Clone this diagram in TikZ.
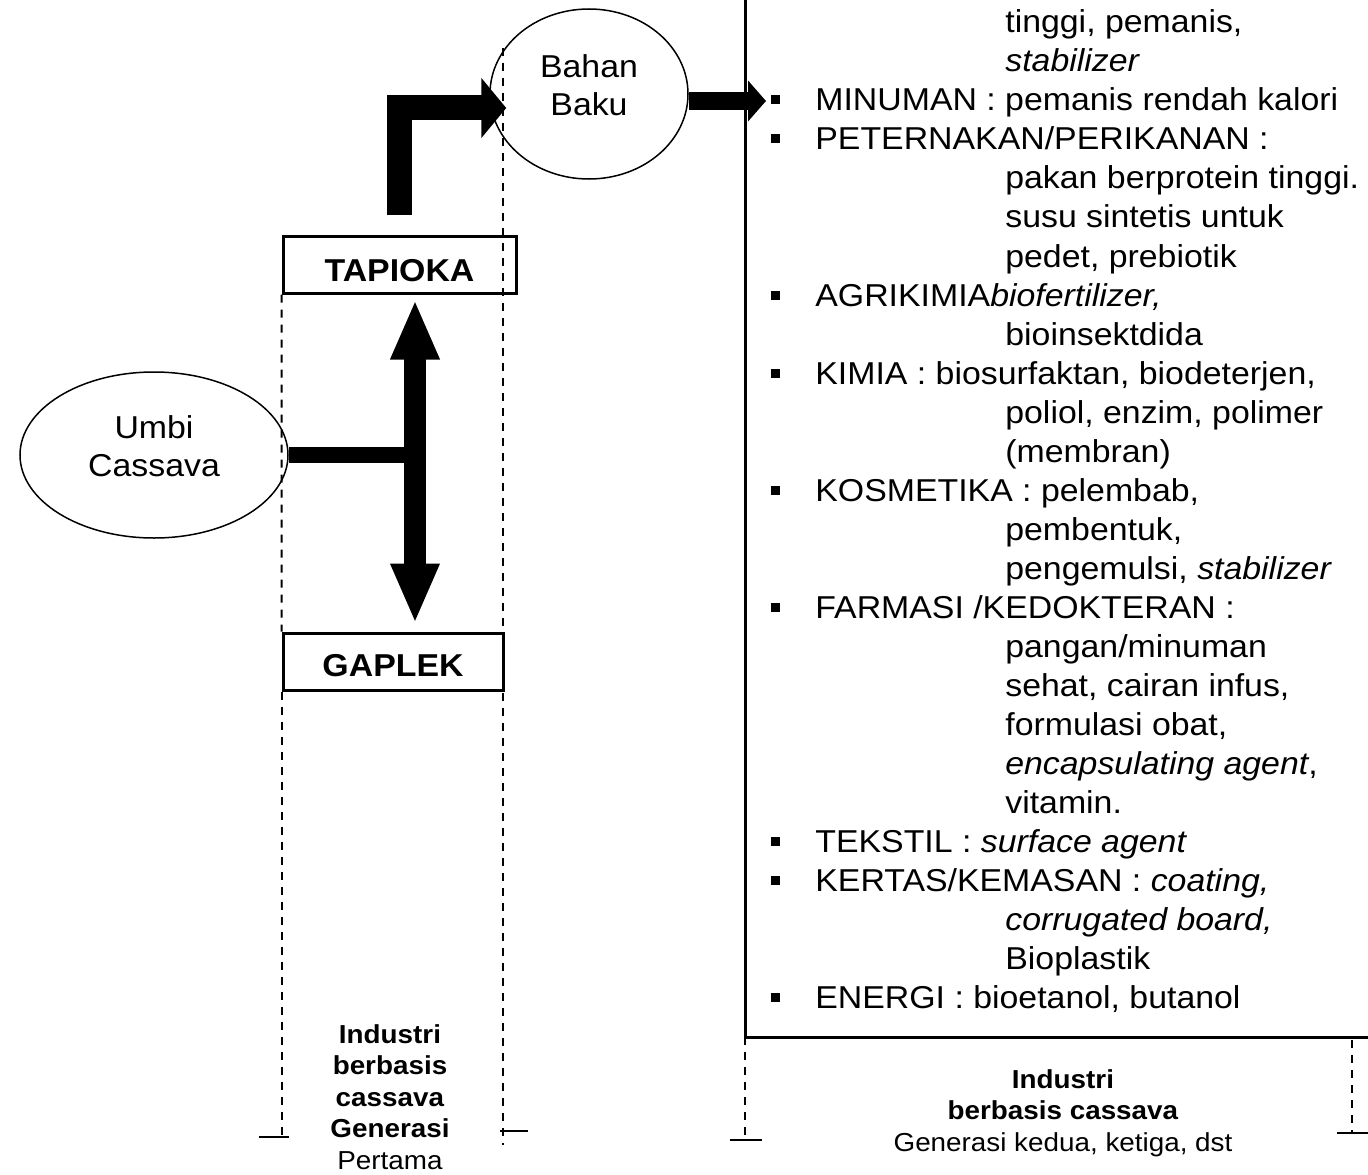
\documentclass[tikz,border=0pt]{standalone}
\usepackage{fontspec}
\setmainfont{Liberation Sans}[FakeStretch=1.07]
\usetikzlibrary{positioning, shapes.geometric, arrows.meta, calc}

\tikzset{
  tuber/.style={draw, ellipse, line width=0.3mm, inner sep=0pt, align=center,
                font=\fontsize{18}{21.6}\selectfont},
  prodbox/.style={draw, rectangle, line width=0.6mm, inner sep=0pt,
                  font=\fontsize{18}{21.6}\selectfont\bfseries},
  guide/.style={line width=0.4mm, dash pattern=on 1.6mm off 1.4mm},
  tick/.style={line width=0.4mm},
  cat/.style={anchor=base west, inner sep=0pt, font=\fontsize{18}{21.6}\selectfont},
  gen/.style={align=center, inner sep=0pt, font=\fontsize{14.8}{17.9}\selectfont},
}
\newcommand{\lowpad}{\rule[-3.4mm]{0pt}{3.4mm}}

\begin{document}
\begin{tikzpicture}[x=0.2mm, y=-0.2mm]
    \useasboundingbox (0,0) rectangle (1368,1175);
    \fill[white] (0,0) rectangle (1368,1175);
    % generasi pertama
    \node[tuber, minimum width=53.6mm, minimum height=33.2mm] (umbi) at (154,455) {Umbi\\Cassava\lowpad};
    \node[tuber, minimum width=39.6mm, minimum height=34mm] (bahan) at (589,94) {Bahan\\Baku\lowpad};
    \node[prodbox, minimum width=46.6mm, minimum height=11.2mm] (tapioka) at (399.5,265) {\rule{0pt}{6.5mm}TAPIOKA};
    \node[prodbox, minimum width=44mm, minimum height=11.4mm] (gaplek) at (393,661.5) {\rule{0pt}{6mm}GAPLEK};
    \coordinate (split) at (415,455);
    \coordinate (listin) at (766,101);
    \draw[guide] (tapioka.south west) -- (gaplek.north west);
    \draw[guide] (gaplek.south west) -- ++(0,445) coordinate (lfoot);
    \draw[tick] ($(lfoot)+(-23,0)$) -- ($(lfoot)+(7,0)$);
    \draw[guide] (503,48) -- (503,1145);
    \draw[tick] (500,1131) -- (528,1131);
    \draw[line width=3.2mm] (umbi.east) -- (split);
    \draw[line width=4.4mm, {Triangle[length=12mm,width=9mm]}-{Triangle[length=12mm,width=9mm]}]
      ($(split |- tapioka.south)+(0,5)$) -- ($(split |- gaplek.north)+(0,-8)$);
    \draw[line width=5mm, -{Triangle[length=5mm,width=11.8mm]}]
      ($(tapioka.north)+(0,-20)$) |- ($(bahan.west)+(17,14)$);
    \draw[line width=3.6mm, -{Triangle[length=3.6mm,width=8mm]}] ($(bahan.east)+(0,7)$) -- (listin);
    % generasi kedua
    \draw[line width=0.6mm] (745,0) -- (745,1037) -- (1368,1037);
    \draw[guide] (745,1037) -- (745,1140);
    \draw[tick] (730,1140) -- (762,1140);
    \draw[guide] (1352,1040) -- (1352,1133);
    \draw[tick] (1337,1133) -- (1368,1133);
    \foreach \y in {100,139,295,373,490,607,841,880,997}
      \fill ({770.5},{\y-4.5}) rectangle ({779.5},{\y+4.5});
    \node[cat] (tinggi) at (1005,33) {tinggi, pemanis,};
    \node[cat] (stab) at (1005,72) {\textit{stabilizer}};
    \node[cat] (minuman) at (815,111) {MINUMAN : pemanis rendah kalori};
    \node[cat] (ternak) at (815,150) {PETERNAKAN/PERIKANAN :};
    \node[cat] (pakan) at (1005,189) {pakan berprotein tinggi.};
    \node[cat] (susu) at (1005,228) {susu sintetis untuk};
    \node[cat] (pedet) at (1005,267) {pedet, prebiotik};
    \node[cat] (agri) at (815,306) {AGRIKIMIA\textit{biofertilizer,}};
    \node[cat] (bioin) at (1005,345) {bioinsektdida};
    \node[cat] (kimia) at (815,384) {KIMIA : biosurfaktan, biodeterjen,};
    \node[cat] (poliol) at (1005,423) {poliol, enzim, polimer};
    \node[cat] (membran) at (1005,462) {(membran)};
    \node[cat] (kosmetik) at (815,501) {KOSMETIKA : pelembab,};
    \node[cat] (bentuk) at (1005,540) {pembentuk,};
    \node[cat] (emulsi) at (1005,579) {pengemulsi, \textit{stabilizer}};
    \node[cat] (farmasi) at (815,618) {FARMASI /KEDOKTERAN :};
    \node[cat] (pangan) at (1005,657) {pangan/minuman};
    \node[cat] (sehat) at (1005,696) {sehat, cairan infus,};
    \node[cat] (obat) at (1005,735) {formulasi obat,};
    \node[cat] (kapsul) at (1005,774) {\textit{encapsulating agent},};
    \node[cat] (vitamin) at (1005,813) {vitamin.};
    \node[cat] (tekstil) at (815,852) {TEKSTIL : \textit{surface agent}};
    \node[cat] (kertas) at (815,891) {KERTAS/KEMASAN : \textit{coating,}};
    \node[cat] (board) at (1005,930) {\textit{corrugated board,}};
    \node[cat] (bioplas) at (1005,969) {Bioplastik};
    \node[cat] (energi) at (815,1008) {ENERGI : bioetanol, butanol};
    % label generasi
    \node[gen] (gen1) at (390,1097) {\textbf{Industri}\\\textbf{berbasis}\\\textbf{cassava}\\\textbf{Generasi}\\Pertama};
    \node[gen] (gen2) at (1063,1113) {\textbf{Industri}\\\textbf{berbasis cassava}\\Generasi kedua, ketiga, dst};
\end{tikzpicture}
\end{document}
